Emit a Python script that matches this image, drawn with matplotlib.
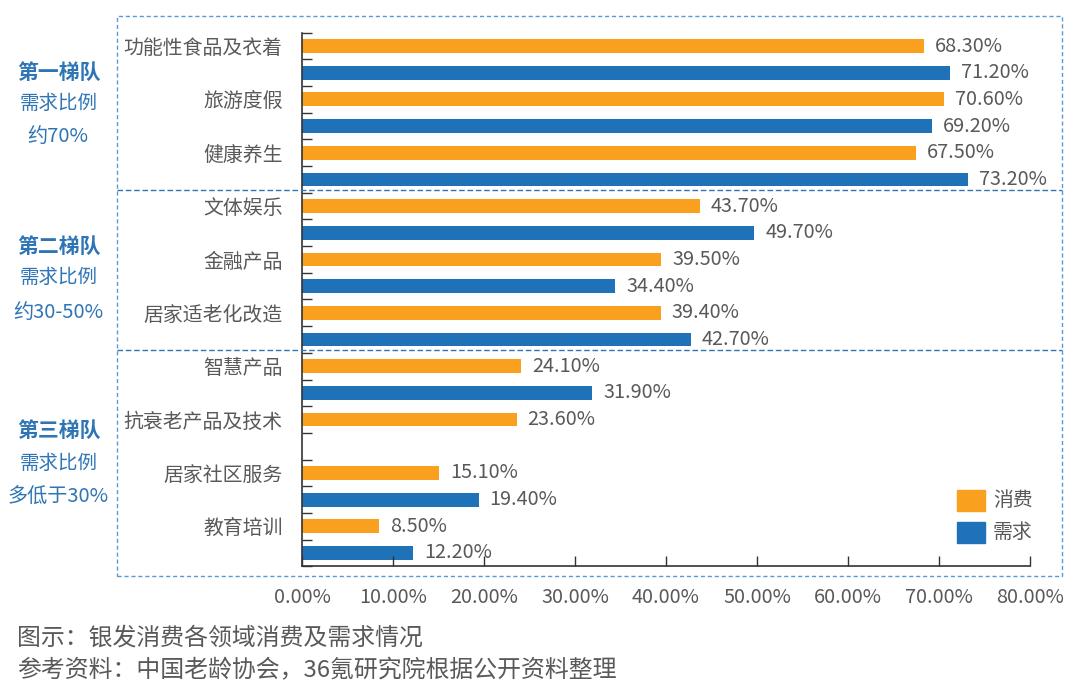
import matplotlib
matplotlib.use("Agg")
import matplotlib.pyplot as plt
from matplotlib.lines import Line2D
from matplotlib.patches import Rectangle
from matplotlib.ticker import FixedLocator, FuncFormatter

plt.rcParams['font.family'] = ['Noto Sans CJK SC', 'DejaVu Sans']

categories = ['功能性食品及衣着', '旅游度假', '健康养生', '文体娱乐', '金融产品',
              '居家适老化改造', '智慧产品', '抗衰老产品及技术', '居家社区服务', '教育培训']
consume = [68.3, 70.6, 67.5, 43.7, 39.5, 39.4, 24.1, 23.6, 15.1, 8.5]
demand = [71.2, 69.2, 73.2, 49.7, 34.4, 42.7, 31.9, None, 19.4, 12.2]
xticks = [0, 10, 20, 30, 40, 50, 60, 70, 80]
tiers = [('第一梯队', '需求比例', '约70%'),
         ('第二梯队', '需求比例', '约30-50%'),
         ('第三梯队', '需求比例', '多低于30%')]
legend_labels = ['消费', '需求']

ORANGE = '#F9A11F'
BLUE = '#1F72B8'
GREY = '#595959'
TIER_BLUE = '#2E75B6'
BOX = '#5B9BD5'

W, H = 1080, 690
fig = plt.figure(figsize=(10.8, 6.9), dpi=100)

def fx(px):
    return px / W

def fy(py):
    return 1 - py / H

ax = fig.add_axes([fx(302), fy(566.3), fx(1030) - fx(302), fy(32.7) - fy(566.3)])

n = len(categories)
pos_c = [2 * i for i in range(n)]
pos_d = [2 * i + 1 for i in range(n)]
bh = 0.52
for i in range(n):
    ax.barh(pos_c[i], consume[i], height=bh, color=ORANGE)
    ax.text(consume[i] + 1.2, pos_c[i], f'{consume[i]:.2f}%', va='center', ha='left',
            fontsize=14.3, color=GREY)
    if demand[i] is not None:
        ax.barh(pos_d[i], demand[i], height=bh, color=BLUE)
        ax.text(demand[i] + 1.2, pos_d[i], f'{demand[i]:.2f}%', va='center', ha='left',
                fontsize=14.3, color=GREY)

ax.set_xlim(0, 80)
ax.set_ylim(2 * n - 0.5, -0.5)
ax.set_xticks(xticks)
ax.xaxis.set_major_formatter(FuncFormatter(lambda v, p: f'{v:.2f}%'))
ax.tick_params(axis='x', direction='in', length=7, width=1, colors='#333333',
               labelcolor=GREY, labelsize=14.3, pad=15)

ax.set_yticks(pos_c)
ax.set_yticklabels(categories)
ax.yaxis.set_minor_locator(FixedLocator([k + 0.5 for k in range(-1, 2 * n)]))
ax.tick_params(axis='y', which='major', length=0, labelsize=14.3, labelcolor=GREY, pad=14)
ax.tick_params(axis='y', which='minor', direction='in', length=7, width=1, colors='#333333')

for s in ['top', 'right']:
    ax.spines[s].set_visible(False)
for s in ['left', 'bottom']:
    ax.spines[s].set_color('#333333')
    ax.spines[s].set_linewidth(1.2)

# dashed frame and dividers
x0, x1 = 117, 1062
y0, y1 = 16, 576
frame = Rectangle((fx(x0), fy(y1)), fx(x1) - fx(x0), fy(y0) - fy(y1),
                  transform=fig.transFigure, fill=False, edgecolor=BOX,
                  linestyle=(0, (3, 2)), linewidth=1.0)
fig.add_artist(frame)
for yy in [190, 350]:
    fig.add_artist(Line2D([fx(x0), fx(x1)], [fy(yy), fy(yy)], transform=fig.transFigure,
                          color='#2E75B6', linestyle=(0, (4, 2)), linewidth=1.0))

# tier labels
tier_y = [(72, 103, 137), (246, 277, 313), (430, 463, 497)]
for (t1, t2, t3), (ya, yb, yc) in zip(tiers, tier_y):
    fig.text(fx(59), fy(ya), t1, ha='center', va='center', fontsize=15,
             fontweight='bold', color=TIER_BLUE)
    fig.text(fx(59), fy(yb), t2, ha='center', va='center', fontsize=14, color=TIER_BLUE)
    fig.text(fx(58), fy(yc), t3, ha='center', va='center', fontsize=14.5, color=TIER_BLUE)

# legend
for (lab, col, yy) in zip(legend_labels, [ORANGE, BLUE], [500.5, 532]):
    fig.add_artist(Rectangle((fx(957), fy(yy + 10.5)), fx(28), fy(0) - fy(21),
                             transform=fig.transFigure, color=col))
    fig.text(fx(993), fy(yy), lab, ha='left', va='center', fontsize=14.3, color=GREY)

# captions
fig.text(fx(17), fy(638), '图示：银发消费各领域消费及需求情况', ha='left', va='center',
         fontsize=17.2, color=GREY)
fig.text(fx(17), fy(671), '参考资料：中国老龄协会，36氪研究院根据公开资料整理', ha='left',
         va='center', fontsize=17.2, color=GREY)

fig.savefig('out.png', dpi=100)
